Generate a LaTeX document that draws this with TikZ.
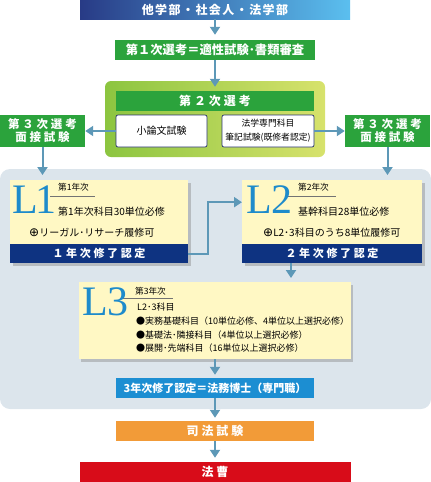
\documentclass[tikz,border=0pt]{standalone}
\usepackage{fontspec}
\setmainfont{Noto Sans CJK JP}
\newfontfamily\serifL{Liberation Serif}
\newfontfamily\symbfont{DejaVu Sans}
\newfontfamily\wide[LetterSpace=24]{Noto Sans CJK JP}
\newfontfamily\half[LetterSpace=12]{Noto Sans CJK JP}
\usetikzlibrary{arrows.meta,shadows}

\definecolor{topnavy}{HTML}{283B86}
\definecolor{topsky}{HTML}{5BBFEF}
\definecolor{stepgreen}{HTML}{2BA33C}
\definecolor{stagegreen}{HTML}{8CC540}
\definecolor{stageyellow}{HTML}{D7E26C}
\definecolor{boxnavy}{HTML}{2A3570}
\definecolor{panelgray}{HTML}{DCE5EC}
\definecolor{cream}{HTML}{FFF8C4}
\definecolor{bandnavy}{HTML}{0E3381}
\definecolor{markblue}{HTML}{1E8BCB}
\definecolor{flowblue}{HTML}{5D98B7}
\definecolor{titleblue}{HTML}{1C8ED2}
\definecolor{examorange}{HTML}{F29B38}
\definecolor{lawred}{HTML}{D80C19}

\begin{document}
\begin{tikzpicture}[x=1pt, y=-1pt]

\tikzset{headbar/.style={rectangle, minimum height=20pt, inner sep=0pt, text=white, font=\bfseries\fontsize{12}{12}\selectfont}}
\tikzset{memobox/.style={rectangle, fill=white, draw=boxnavy, line width=0.7pt, rounded corners=2pt, minimum width=91pt, minimum height=32pt, inner sep=0pt, align=center}}
\tikzset{yearbox/.style={rectangle, anchor=north west, fill=cream, inner sep=0pt, drop shadow={shadow xshift=2.5pt, shadow yshift=-2.5pt, opacity=0.4}}}
\tikzset{certbar/.style={rectangle, fill=bandnavy, minimum height=19pt, inner sep=0pt, text=white, font=\wide\bfseries\fontsize{11}{11}\selectfont}}
\tikzset{bigmark/.style={anchor=base west, inner sep=0pt, text=markblue, font=\serifL\fontsize{42}{42}\selectfont}}
\tikzset{item/.style={anchor=west, inner sep=0pt, font=\fontsize{10}{10}\selectfont}}
\tikzset{listitem/.style={anchor=west, inner sep=0pt, font=\fontsize{9}{9}\selectfont}}
\tikzset{yearlabel/.style={anchor=west, inner sep=0pt, font=\fontsize{8.6}{8.6}\selectfont}}
\tikzset{underline/.style={draw=black!55, line width=0.6pt}}
\tikzset{flow/.style={draw=flowblue, line width=2pt, -{Triangle[width=10pt, length=8pt]}}}

\useasboundingbox (0,0) rectangle (431,482);

% entrance and first stage
\node[headbar, minimum width=270pt, minimum height=19pt, left color=topnavy, right color=topsky, font=\half\bfseries\fontsize{12}{12}\selectfont] at (215,9.5) (entry) {他学部・社会人・法学部};
\node[headbar, fill=stepgreen, minimum width=200pt, font=\bfseries\fontsize{12.3}{12.3}\selectfont] at (215,50) (first) {第１次選考＝適性試験･書類審査};

% second stage
\node[rectangle, rounded corners=6pt, minimum width=220pt, minimum height=76pt, left color=stagegreen, middle color=stagegreen!55!stageyellow, right color=stageyellow] at (215,119) (second) {};
\node[headbar, fill=stepgreen, minimum width=198pt, font=\wide\bfseries\fontsize{12}{12}\selectfont] at (215,101) (secondhead) {第２次選考};
\node[memobox, font=\fontsize{10}{10}\selectfont] at (161.5,131) (essay) {小論文試験};
\node[memobox, minimum width=92pt, font=\fontsize{8.8}{14}\selectfont] at (268,131) (lawexam) {法学専門科目\\筆記試験(既修者認定)};

% third stage, both sides
\node[headbar, fill=stepgreen, minimum width=85pt, minimum height=32pt, align=center, font=\wide\bfseries\fontsize{11.5}{13}\selectfont] at (42.5,131) (thirdL) {第３次選考\\面接試験};
\node[headbar, fill=stepgreen, minimum width=85pt, minimum height=32pt, align=center, font=\wide\bfseries\fontsize{11.5}{13}\selectfont] at (387.5,131) (thirdR) {第３次選考\\面接試験};

% study years panel
\node[rectangle, fill=panelgray, rounded corners=10pt, minimum width=431pt, minimum height=240pt] at (215.5,289) (years) {};

% L1
\node[yearbox, minimum width=178pt, minimum height=83pt] at (10,180) (l1) {};
\node[certbar, minimum width=178pt] at (99,253.5) (l1cert) {１年次修了認定};
\draw[underline] (50,196.5) -- (95,196.5);
\node[bigmark] at (12.5,213) (l1mark) {L\kern-3pt 1};
\node[yearlabel] at (58,187.5) (l1year) {第1年次};
\node[item] at (58,211.5) (l1must) {第1年次科目30単位必修};
\node[item] at (29,233) (l1plus) {{\symbfont\fontsize{12}{12}\selectfont ⊕}リーガル･リサーチ履修可};

% L2
\node[yearbox, minimum width=180pt, minimum height=83pt] at (242,180) (l2) {};
\node[certbar, minimum width=180pt] at (332,253.5) (l2cert) {２年次修了認定};
\draw[underline] (287,196.5) -- (336,196.5);
\node[bigmark] at (246,213) (l2mark) {L2};
\node[yearlabel] at (298,187.5) (l2year) {第2年次};
\node[item] at (298,211.5) (l2must) {基幹科目28単位必修};
\node[item] at (263,233) (l2plus) {{\symbfont\fontsize{12}{12}\selectfont ⊕}L2･3科目のうち8単位履修可};

% L3
\node[yearbox, minimum width=272pt, minimum height=77pt] at (78.5,282) (l3) {};
\draw[underline] (120,298.5) -- (173,298.5);
\node[bigmark] at (82,315.5) (l3mark) {L3};
\node[yearlabel] at (135,291) (l3year) {第3年次};
\node[listitem] at (137,307) (l3all) {L2･3科目};
\node[listitem] at (136,321) (l3practice) {●実務基礎科目（10単位必修、4単位以上選択必修）};
\node[listitem] at (136,335) (l3basic) {●基礎法･隣接科目（4単位以上選択必修）};
\node[listitem] at (136,348) (l3advanced) {●展開･先端科目（16単位以上選択必修）};

% degree, bar exam, legal profession
\node[headbar, fill=titleblue, minimum width=198pt, font=\bfseries\fontsize{11}{11}\selectfont] at (215,388) (degree) {3年次修了認定＝法務博士（専門職）};
\node[headbar, fill=examorange, minimum width=198pt, font=\wide\bfseries\fontsize{12}{12}\selectfont] at (215,431) (exam) {司法試験};
\node[headbar, fill=lawred, minimum width=271pt, font=\wide\bfseries\fontsize{12}{12}\selectfont] at (215,472) (lawyer) {法曹};

% flow
\draw[flow, shorten >=5pt] (entry) -- (first);
\draw[flow, shorten >=4pt] (first) -- (secondhead);
\draw[flow] (essay) -- (thirdL);
\draw[flow] (lawexam) -- (thirdR);
\draw[flow, shorten >=5pt] (thirdL) -- (thirdL |- l1.north);
\draw[flow, shorten >=5pt] (thirdR) -- (thirdR |- l2.north);
\draw[flow] (l1cert.east) -- ++(20,0) |- ([yshift=19.5pt]l2.west);
\draw[flow, shorten >=4pt] ([xshift=-41pt]l2cert.south) -- ([xshift=-41pt]l2cert.south |- l3.north);
\draw[flow, shorten >=3pt] (degree |- l3.south) -- (degree);
\draw[flow, shorten >=3pt] (degree) -- (exam);
\draw[flow, shorten >=4pt] (exam) -- (lawyer);

\end{tikzpicture}
\end{document}
